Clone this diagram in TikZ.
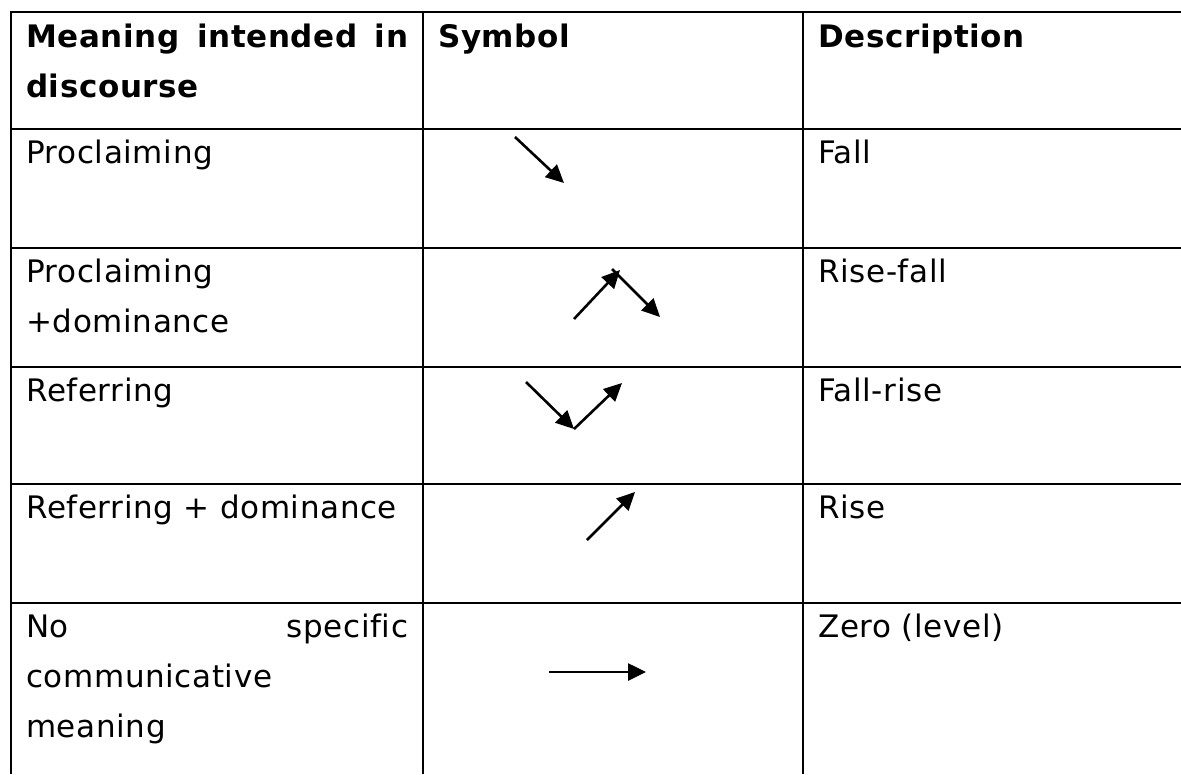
\documentclass[tikz,border=0pt]{standalone}
\usepackage{fontspec}
\setmainfont{DejaVu Sans}[LetterSpace=2,Ligatures=NoCommon]
\usetikzlibrary{arrows.meta}
\begin{document}
\begin{tikzpicture}[x=1pt,y=-1pt,
  rule/.style={line width=2.6pt},
  sym/.style={line width=2.6pt,-{Triangle[length=18pt,width=17pt]}},
  cell/.style={anchor=base west,inner sep=0pt,font=\fontsize{31}{36}\selectfont}]
\useasboundingbox (0,0) rectangle (1181,774);
\foreach \y in {12,129,248,367,484,603}
  \draw[rule] (10,\y) -- (1181,\y);
\foreach \x in {11,423,803}
  \draw[rule] (\x,11) -- (\x,774);
\node[cell] (head1) at (26,47) {\makebox[382pt][s]{\bfseries Meaning intended in}};
\node[cell] (head1b) at (26,97) {\bfseries discourse};
\node[cell] (head2) at (438,47) {\bfseries Symbol};
\node[cell] (head3) at (818,47) {\bfseries Description};
\node[cell] (mean1) at (26,163) {Proclaiming};
\node[cell] (mean2) at (26,282) {Proclaiming};
\node[cell] (mean2b) at (26,332) {+dominance};
\node[cell] (mean3) at (26,401) {Referring};
\node[cell] (mean4) at (26,518) {Referring + dominance};
\node[cell] (mean5) at (26,637) {\makebox[382pt][s]{No specific}};
\node[cell] (mean5b) at (26,687) {communicative};
\node[cell] (mean5c) at (26,737) {meaning};
\node[cell] (desc1) at (818,163) {Fall};
\node[cell] (desc2) at (818,282) {Rise-fall};
\node[cell] (desc3) at (818,401) {Fall-rise};
\node[cell] (desc4) at (818,518) {Rise};
\node[cell] (desc5) at (818,637) {Zero (level)};
\coordinate (fallA) at (515,137);
\coordinate (fallB) at (564,183);
\coordinate (rfA) at (574,319);
\coordinate (rfB) at (620,270);
\coordinate (rfC) at (612,269);
\coordinate (rfD) at (660,317);
\coordinate (frA) at (526,382);
\coordinate (frB) at (574,429);
\coordinate (frC) at (622,383);
\coordinate (riseA) at (587,540);
\coordinate (riseB) at (635,492);
\coordinate (zeroA) at (549,672);
\coordinate (zeroB) at (646,672);
\draw[sym] (fallA) -- (fallB);
\draw[sym] (rfA) -- (rfB);
\draw[sym] (rfC) -- (rfD);
\draw[sym] (frA) -- (frB);
\draw[sym] (frB) -- (frC);
\draw[sym] (riseA) -- (riseB);
\draw[sym] (zeroA) -- (zeroB);
\end{tikzpicture}
\end{document}
